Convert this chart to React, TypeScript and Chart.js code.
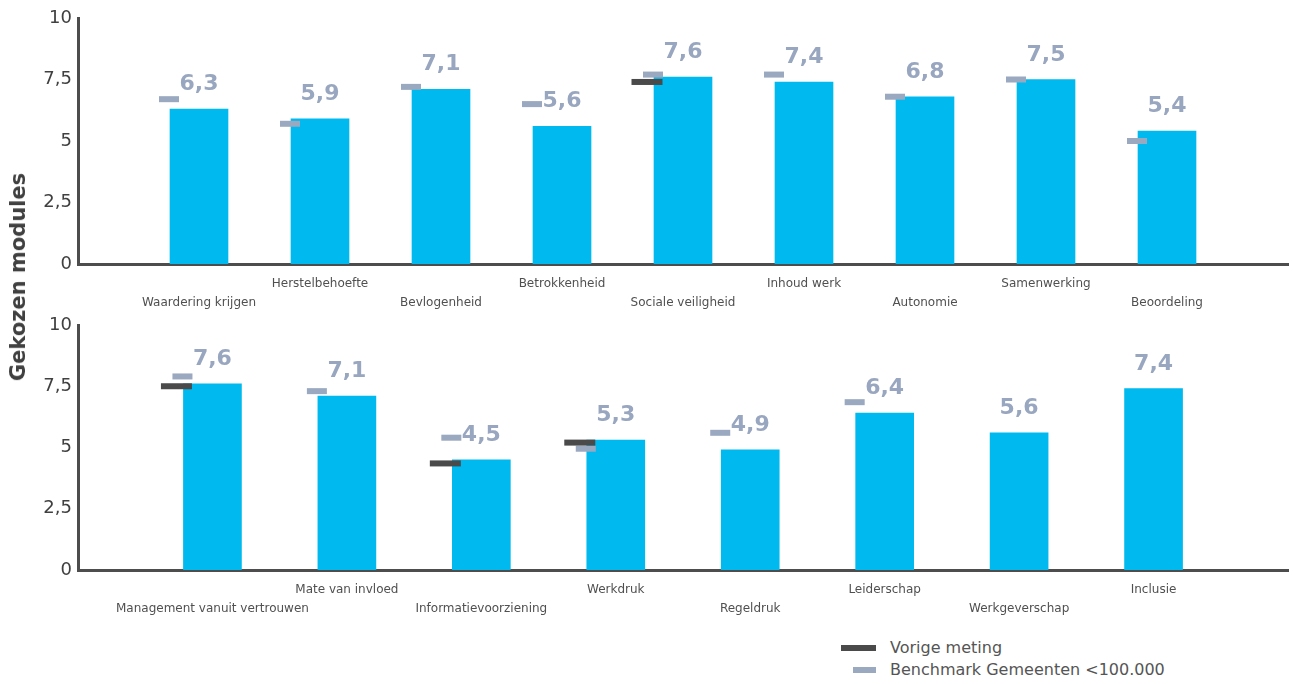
import React, { useEffect, useRef } from 'react';
import { Chart, registerables } from 'chart.js';

Chart.register(...registerables);

const topCategories = [
  'Waardering krijgen', 'Herstelbehoefte', 'Bevlogenheid', 'Betrokkenheid', 'Sociale veiligheid',
  'Inhoud werk', 'Autonomie', 'Samenwerking', 'Beoordeling',
];
const topScores = [6.3, 5.9, 7.1, 5.6, 7.6, 7.4, 6.8, 7.5, 5.4];
const topBenchmark = [6.7, 5.7, 7.2, 6.5, 7.7, 7.7, 6.8, 7.5, 5.0];
const topVorige = [null, null, null, null, 7.4, null, null, null, null];

const bottomCategories = [
  'Management vanuit vertrouwen', 'Mate van invloed', 'Informatievoorziening', 'Werkdruk',
  'Regeldruk', 'Leiderschap', 'Werkgeverschap', 'Inclusie',
];
const bottomScores = [7.6, 7.1, 4.5, 5.3, 4.9, 6.4, 5.6, 7.4];
const bottomBenchmark = [7.9, 7.3, 5.4, 4.95, 5.6, 6.85, null, null];
const bottomVorige = [7.5, null, 4.35, 5.2, null, null, null, null];

const yTickValues = [0, 2.5, 5, 7.5, 10];
const yTitle = 'Gekozen modules';
const legendItems = ['Vorige meting', 'Benchmark Gemeenten <100.000'];

const FONT = '"DejaVu Sans", Verdana, sans-serif';
const BAR_COLOR = '#00B9EF';
const AXIS_COLOR = '#4D4D4D';
const BENCH_COLOR = '#9AA8C0';
const VORIGE_COLOR = '#4A4A4A';
const LABEL_COLOR = '#98A6BF';

type Marker = { values: (number | null)[]; color: string; width: number; thick: number; shift: number };

function makeOverlay(scores: number[], markers: Marker[]) {
  return {
    id: 'overlay',
    afterDatasetsDraw(chart: any) {
      const meta = chart.getDatasetMeta(0);
      const yScale = chart.scales.y;
      const ctx = chart.ctx;
      ctx.save();
      markers.forEach((m) => {
        m.values.forEach((v, i) => {
          if (v == null) return;
          const bar = meta.data[i + 1];
          if (!bar) return;
          const left = bar.x - bar.width / 2;
          const cx = left + m.shift;
          const py = yScale.getPixelForValue(v);
          ctx.fillStyle = m.color;
          ctx.fillRect(cx - m.width / 2, py - m.thick / 2, m.width, m.thick);
        });
      });
      ctx.font = `bold 22px ${FONT}`;
      ctx.fillStyle = LABEL_COLOR;
      ctx.textAlign = 'center';
      ctx.textBaseline = 'alphabetic';
      scores.forEach((s, i) => {
        const bar = meta.data[i + 1];
        if (!bar) return;
        ctx.fillText(s.toFixed(1).replace('.', ','), bar.x, bar.y - 19);
      });
      ctx.restore();
    },
  };
}

function makeConfig(categories: string[], scores: number[], bench: (number | null)[], vorige: (number | null)[], xHeight: number) {
  const labels = ['', ...categories, ''];
  const markers: Marker[] = [
    { values: bench, color: BENCH_COLOR, width: 20, thick: 6, shift: -1 },
    { values: vorige, color: VORIGE_COLOR, width: 31, thick: 6, shift: -7 },
  ];
  return {
    type: 'bar' as const,
    data: {
      labels,
      datasets: [
        {
          data: [null, ...scores, null],
          backgroundColor: BAR_COLOR,
          borderWidth: 0,
          barThickness: 58,
        },
      ],
    },
    options: {
      animation: false as const,
      responsive: false,
      layout: { padding: { top: 10, right: 5, left: 0, bottom: 0 } },
      plugins: { legend: { display: false }, tooltip: { enabled: false } },
      scales: {
        x: {
          offset: false,
          grid: { display: false, drawTicks: false, offset: false },
          border: { display: true, color: AXIS_COLOR, width: 3 },
          ticks: {
            autoSkip: false,
            maxRotation: 0,
            minRotation: 0,
            padding: 10,
            color: '#505050',
            font: { family: FONT, size: 12, lineHeight: 1.6 },
            callback: function (this: any, value: any, index: number) {
              const l = this.getLabelForValue(value);
              return index % 2 === 1 ? ['', l] : l;
            },
          },
          afterFit: (a: any) => { a.height = xHeight; a.paddingLeft = 0; a.paddingRight = 0; },
        },
        y: {
          min: 0,
          max: 10,
          grid: { display: false, drawTicks: false },
          border: { display: true, color: AXIS_COLOR, width: 3 },
          afterBuildTicks: (a: any) => { a.ticks = yTickValues.map((v) => ({ value: v })); },
          ticks: {
            padding: 6,
            color: '#404040',
            font: { family: FONT, size: 18 },
            callback: (v: any) => String(v).replace('.', ','),
          },
          afterFit: (a: any) => { a.width = 78; a.paddingTop = 0; a.paddingBottom = 0; },
        },
      },
    },
    plugins: [makeOverlay(scores, markers)],
  };
}

function BarPanel(props: { categories: string[]; scores: number[]; bench: (number | null)[]; vorige: (number | null)[]; top: number; height: number; xHeight: number }) {
  const ref = useRef<HTMLCanvasElement | null>(null);
  useEffect(() => {
    if (!ref.current) return;
    const chart = new Chart(ref.current, makeConfig(props.categories, props.scores, props.bench, props.vorige, props.xHeight) as any);
    return () => chart.destroy();
  }, []);
  return (
    <canvas
      ref={ref}
      width={1293}
      height={props.height}
      style={{ position: 'absolute', left: 0, top: props.top, width: 1293, height: props.height }}
    />
  );
}

export default function App() {
  return (
    <div style={{ position: 'absolute', left: 0, top: 0, width: 1293, height: 684, overflow: 'hidden', background: '#fff' }}>
      <BarPanel categories={topCategories} scores={topScores} bench={topBenchmark} vorige={topVorige} top={8} height={310} xHeight={54} />
      <BarPanel categories={bottomCategories} scores={bottomScores} bench={bottomBenchmark} vorige={bottomVorige} top={315} height={310} xHeight={55} />
      <div
        style={{
          position: 'absolute', left: 18, top: 277, transform: 'translate(-50%, -50%) rotate(-90deg)',
          whiteSpace: 'nowrap', fontFamily: FONT, fontWeight: 'bold', fontSize: 21, color: '#404040', lineHeight: '24px',
        }}
      >
        {yTitle}
      </div>
      <div style={{ position: 'absolute', left: 841, top: 645, width: 35, height: 6, background: VORIGE_COLOR }} />
      <div style={{ position: 'absolute', left: 853, top: 667, width: 23, height: 6, background: BENCH_COLOR }} />
      <div style={{ position: 'absolute', left: 890, top: 638, fontFamily: FONT, fontSize: 16, color: '#555', lineHeight: '20px', whiteSpace: 'nowrap' }}>
        {legendItems[0]}
      </div>
      <div style={{ position: 'absolute', left: 890, top: 660, fontFamily: FONT, fontSize: 16, color: '#555', lineHeight: '20px', whiteSpace: 'nowrap' }}>
        {legendItems[1]}
      </div>
    </div>
  );
}
